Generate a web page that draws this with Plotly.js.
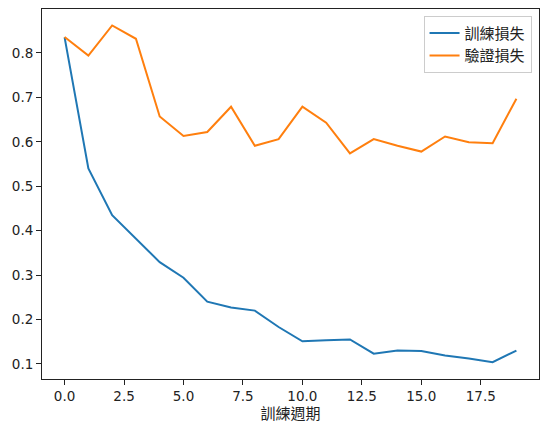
<!DOCTYPE html>
<html>
<head>
<meta charset="utf-8">
<script src="https://cdn.plot.ly/plotly-3.0.1.min.js"></script>
<style>html,body{margin:0;padding:0;background:#fff;}#chart{width:547px;height:432px;}</style>
</head>
<body>
<div id="chart"></div>
<script>
const epochs = [0,1,2,3,4,5,6,7,8,9,10,11,12,13,14,15,16,17,18,19];
const trainLoss = [0.835,0.540,0.435,0.382,0.329,0.294,0.240,0.227,0.220,0.183,0.151,0.153,0.155,0.123,0.130,0.129,0.119,0.112,0.104,0.130];
const valLoss = [0.836,0.794,0.862,0.832,0.657,0.613,0.622,0.679,0.591,0.606,0.679,0.643,0.574,0.606,0.591,0.578,0.612,0.599,0.597,0.697];
const seriesNames = ['訓練損失','驗證損失'];
const xTitle = '訓練週期';
const xTicks = [0,2.5,5,7.5,10,12.5,15,17.5];
const xTickText = ['0.0','2.5','5.0','7.5','10.0','12.5','15.0','17.5'];
const yTicks = [0.1,0.2,0.3,0.4,0.5,0.6,0.7,0.8];

const font = 'DejaVu Sans, Noto Sans CJK TC, sans-serif';
const traces = [
  {x: epochs, y: trainLoss, name: seriesNames[0], mode: 'lines', line: {color: '#1f77b4', width: 2}},
  {x: epochs, y: valLoss, name: seriesNames[1], mode: 'lines', line: {color: '#ff7f0e', width: 2}}
];
const axisCommon = {
  showline: true, mirror: true, linecolor: '#222', linewidth: 1,
  ticks: 'outside', ticklen: 5, tickcolor: '#222', tickwidth: 1,
  showgrid: false, zeroline: false,
  tickfont: {family: font, size: 13.5, color: '#222'}
};
const layout = {
  width: 547, height: 432,
  margin: {l: 42, r: 8, t: 9, b: 53},
  paper_bgcolor: '#fff', plot_bgcolor: '#fff',
  font: {family: font, color: '#222'},
  xaxis: Object.assign({}, axisCommon, {
    range: [-0.95, 19.95], tickmode: 'array', tickvals: xTicks, ticktext: xTickText,
    title: {text: xTitle, font: {family: font, size: 15, color: '#222'}, standoff: 5}
  }),
  yaxis: Object.assign({}, axisCommon, {
    range: [0.066, 0.899], tickmode: 'array', tickvals: yTicks,
    tickformat: '.1f'
  }),
  showlegend: true,
  legend: {
    x: 0.985, y: 0.982, xanchor: 'right', yanchor: 'top',
    bgcolor: 'rgba(255,255,255,0.8)', bordercolor: '#ccc', borderwidth: 1,
    font: {family: font, size: 15, color: '#222'},
    tracegroupgap: 0, itemwidth: 30
  }
};
Plotly.newPlot('chart', traces, layout, {staticPlot: true, displayModeBar: false});
</script>
</body>
</html>
